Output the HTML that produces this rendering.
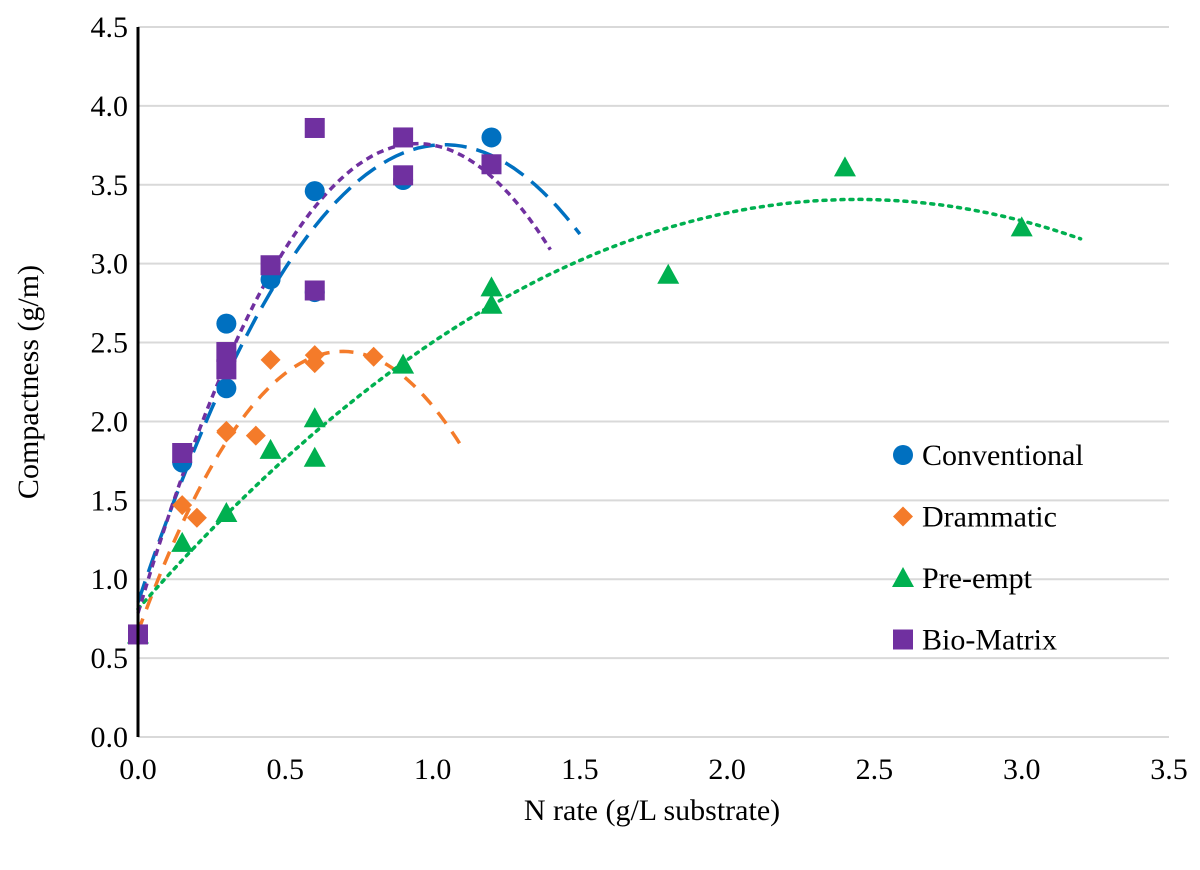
<!DOCTYPE html>
<html><head><meta charset="utf-8"><style>
body{margin:0;background:#fff;}
svg text{font-family:"Liberation Serif",serif;fill:#000;}
</style></head><body>
<svg id="chart" width="1200" height="865" xmlns="http://www.w3.org/2000/svg">
<g id="grid"></g><g id="curves"></g><g id="marks"></g><g id="axes"></g><g id="legend"></g>
</svg>
<script>
const xTicks=[0,0.5,1.0,1.5,2.0,2.5,3.0,3.5];
const yTicks=[0,0.5,1.0,1.5,2.0,2.5,3.0,3.5,4.0,4.5];
const seriesNames=["Conventional","Drammatic","Pre-empt","Bio-Matrix"];
const convX=[0,0.15,0.3,0.3,0.45,0.6,0.6,0.9,1.2];
const convY=[0.65,1.74,2.62,2.21,2.9,3.46,2.82,3.53,3.8];
const dramX=[0,0.15,0.2,0.3,0.3,0.4,0.45,0.6,0.6,0.8];
const dramY=[0.65,1.47,1.39,1.94,1.93,1.91,2.39,2.42,2.37,2.41];
const preX=[0,0.15,0.3,0.45,0.6,0.6,0.9,1.2,1.2,1.8,2.4,3.0];
const preY=[0.65,1.23,1.42,1.82,2.02,1.77,2.36,2.85,2.74,2.93,3.61,3.23];
const bioX=[0,0.15,0.3,0.3,0.45,0.6,0.6,0.9,0.9,1.2];
const bioY=[0.65,1.8,2.44,2.33,2.99,3.86,2.83,3.8,3.56,3.63];
const trendEnd=[1.5,1.1,3.2,1.4];

const NS="http://www.w3.org/2000/svg";
const X0=138,X1=1169,Y0=737,Y1=27;
const sx=v=>X0+(v/3.5)*(X1-X0);
const sy=v=>Y0-(v/4.5)*(Y0-Y1);
function mk(tag,attrs,parent){const e=document.createElementNS(NS,tag);for(const k in attrs)e.setAttribute(k,attrs[k]);parent.appendChild(e);return e;}
const grid=document.getElementById('grid'),axes=document.getElementById('axes'),marks=document.getElementById('marks'),curves=document.getElementById('curves'),legend=document.getElementById('legend');
yTicks.forEach(t=>{
  if(t>0){const l=mk('line',{x1:X0,x2:X1,y1:sy(t),y2:sy(t),stroke:'#d9d9d9','stroke-width':2},grid);
  
  }
  const tx=mk('text',{x:X0-10,y:sy(t)+10,'text-anchor':'end','font-size':30},axes);tx.textContent=t.toFixed(1);
  
  
});
xTicks.forEach(t=>{
  const tx=mk('text',{x:sx(t),y:Y0+42,'text-anchor':'middle','font-size':30},axes);tx.textContent=t.toFixed(1);
  
  
});
const xa=mk('line',{x1:X0,x2:X1,y1:Y0,y2:Y0,stroke:'#d9d9d9','stroke-width':2},axes);


const ya=mk('line',{x1:X0,x2:X0,y1:Y1,y2:Y0,stroke:'#000','stroke-width':3},axes);


const xt=mk('text',{x:652,y:820,'text-anchor':'middle','font-size':30},axes);xt.textContent='N rate (g/L substrate)';


const yt=mk('text',{x:0,y:0,'text-anchor':'middle','font-size':30,transform:'translate(38,382) rotate(-90)'},axes);yt.textContent='Compactness (g/m)';



function quadFit(xs,ys){let S=[0,0,0,0,0],T=[0,0,0];
  for(let i=0;i<xs.length;i++){let p=1;for(let k=0;k<5;k++){S[k]+=p;if(k<3)T[k]+=p*ys[i];p*=xs[i];}}
  const A=[[S[0],S[1],S[2],T[0]],[S[1],S[2],S[3],T[1]],[S[2],S[3],S[4],T[2]]];
  for(let i=0;i<3;i++){for(let j=i+1;j<3;j++){const f=A[j][i]/A[i][i];for(let k=i;k<4;k++)A[j][k]-=f*A[i][k];}}
  const c=[0,0,0];for(let i=2;i>=0;i--){let s=A[i][3];for(let k=i+1;k<3;k++)s-=A[i][k]*c[k];c[i]=s/A[i][i];}return c;}
const colors=['#0070c0','#f47b2a','#00b050','#7030a0'];
const dashes=['22,10','14,10','3,6','7,5'];
const sets=[[convX,convY],[dramX,dramY],[preX,preY],[bioX,bioY]];
const shapes=['circle','diamond','triangle','square'];
sets.forEach((s,i)=>{
  const c=quadFit(s[0],s[1]);let d='';
  for(let j=0;j<=60;j++){const x=trendEnd[i]*j/60;const y=c[0]+c[1]*x+c[2]*x*x;d+=(j?'L':'M')+sx(x).toFixed(1)+','+sy(y).toFixed(1);}
  const p=mk('path',{d:d,fill:'none',stroke:colors[i],'stroke-width':3.5,'stroke-dasharray':dashes[i],'stroke-linecap':i==2?'round':'butt'},curves);
  
  
});
function marker(shape,cx,cy,col,parent){
  if(shape=='circle')return mk('circle',{cx:cx,cy:cy,r:10,fill:col},parent);
  if(shape=='square')return mk('rect',{x:cx-10,y:cy-10,width:20,height:20,fill:col},parent);
  if(shape=='diamond')return mk('polygon',{points:`${cx},${cy-10} ${cx+10},${cy} ${cx},${cy+10} ${cx-10},${cy}`,fill:col},parent);
  return mk('polygon',{points:`${cx},${cy-11} ${cx+11},${cy+9} ${cx-11},${cy+9}`,fill:col},parent);
}
sets.forEach((s,i)=>{
  s[0].forEach((x,j)=>{const m=marker(shapes[i],sx(x),sy(s[1][j]),colors[i],marks);
    
    });
});
seriesNames.forEach((n,i)=>{
  const y=455+i*61.5;
  const m=marker(shapes[i],903,y,colors[i],legend);
  
  
  const t=mk('text',{x:922,y:y+10,'font-size':30},legend);t.textContent=n;
  
  
});
</script>
</body></html>
